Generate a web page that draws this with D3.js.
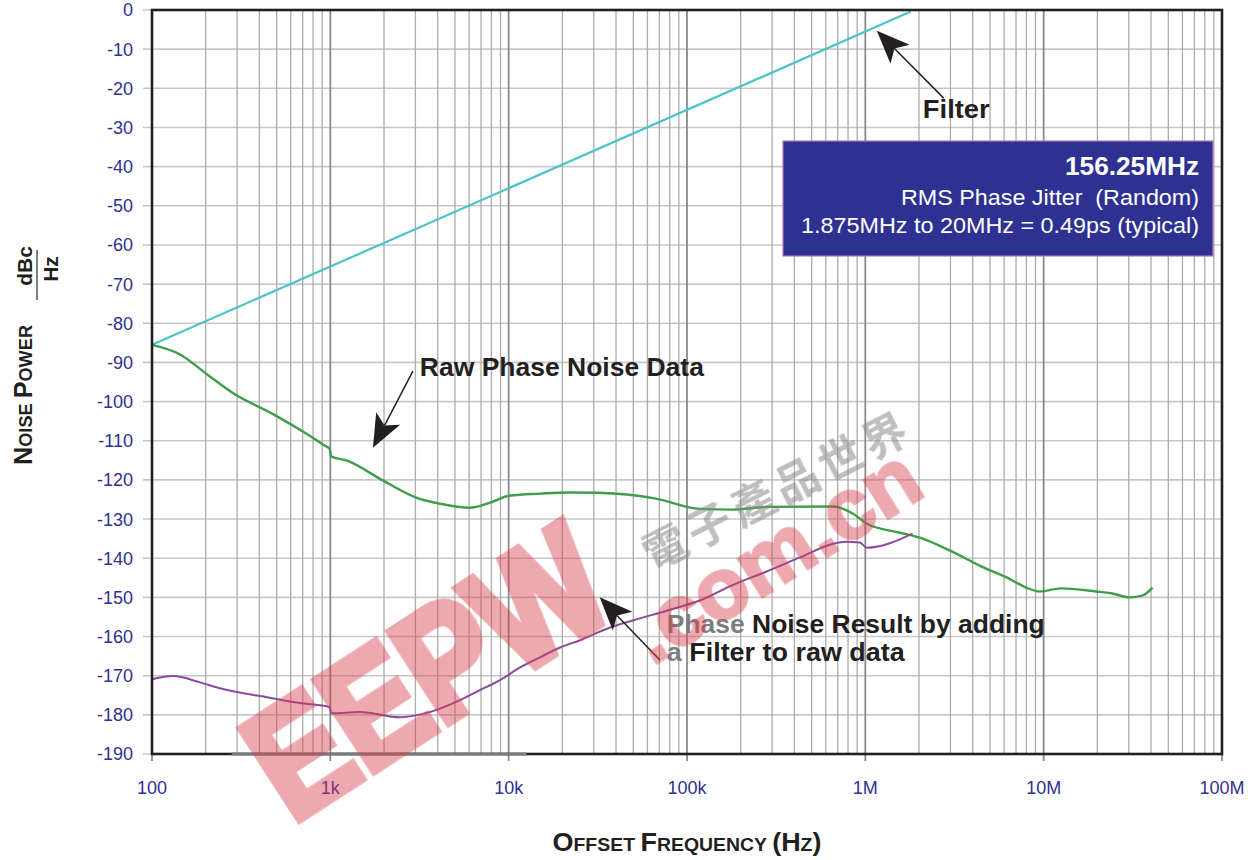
<!DOCTYPE html>
<html><head><meta charset="utf-8">
<script src="https://cdn.jsdelivr.net/npm/d3@7"></script>
<style>html,body{margin:0;padding:0;background:#fff}svg{display:block}</style>
</head><body>
<script>
// ---------- data ----------
const xTickValues = [1e2, 1e3, 1e4, 1e5, 1e6, 1e7, 1e8];
const xTickLabels = ["100", "1k", "10k", "100k", "1M", "10M", "100M"];
const yTickValues = [0, -10, -20, -30, -40, -50, -60, -70, -80, -90, -100, -110, -120, -130, -140, -150, -160, -170, -180, -190];

const filterFreq = [100, 1.8e6];
const filterDb = [-85.5, -0.4];

const rawFreq = [100, 143, 203, 284, 477, 740, 934, 990, 1010, 1240, 1980, 3060, 4130, 6080, 7850, 10200, 15000, 22000, 32000, 67000, 118000, 180000, 280000, 660000, 850000, 1020000, 1570000, 2000000, 2970000, 4620000, 6200000, 7980000, 9500000, 12500000, 19700000, 24300000, 30300000, 35900000, 40800000];
const rawDb = [-85.5, -87.9, -93, -97.8, -103.2, -108.3, -111.3, -112, -114, -115.1, -120.2, -124.6, -126.1, -127.1, -125.8, -124, -123.5, -123.2, -123.3, -124.8, -127.4, -127.6, -126.9, -126.8, -128.6, -131.2, -133.5, -134.7, -138, -142.4, -144.9, -147.5, -148.5, -147.7, -148.5, -149, -150, -149.5, -147.5];

const resultFreq = [100, 131, 186, 240, 284, 442, 676, 954, 995, 1010, 1466, 2460, 3600, 5300, 6900, 8900, 11600, 15000, 19400, 25000, 37000, 49700, 77000, 118000, 181000, 280000, 430000, 660000, 770000, 930000, 1020000, 1840000];
const resultDb = [-170.9, -170.1, -171.7, -173.2, -174, -175.5, -177, -177.8, -178.2, -179.6, -179.3, -180.6, -179.3, -176.3, -173.7, -171.2, -167.9, -165.3, -162.8, -161, -157.7, -155.9, -153.4, -150.8, -146.8, -143.4, -139.8, -136.3, -135.8, -136, -137.3, -133.7];

const boxLines = ["156.25MHz", "RMS Phase Jitter  (Random)", "1.875MHz to 20MHz = 0.49ps (typical)"];

// ---------- layout ----------
const W = 1248, H = 860;
const FONT = "'Liberation Sans', Arial, Helvetica, sans-serif";
const svg = d3.select("body").append("svg").attr("width", W).attr("height", H)
  .style("font-family", FONT);

const x = d3.scaleLog().domain([1e2, 1e8]).range([152, 1222]);
const y = d3.scaleLinear().domain([0, -190]).range([10, 754]);
const [x0, x1] = x.range(), [y0, y1] = [y(0), y(-190)];

// ---------- grid ----------
const grid = svg.append("g");
const minor = [];
for (let d = 2; d < 8; d++) for (let m = 2; m <= 9; m++) minor.push(m * Math.pow(10, d));
grid.selectAll("line.h").data(yTickValues).join("line")
  .attr("x1", x0 - 9).attr("x2", x1).attr("y1", d => y(d)).attr("y2", d => y(d))
  .attr("stroke", "#c8c8c8").attr("stroke-width", 1.6);
grid.selectAll("line.vm").data(minor).join("line")
  .attr("x1", d => x(d)).attr("x2", d => x(d)).attr("y1", y0).attr("y2", y1)
  .attr("stroke", "#acacac").attr("stroke-width", 1.3);
grid.selectAll("line.vM").data(xTickValues).join("line")
  .attr("x1", d => x(d)).attr("x2", d => x(d)).attr("y1", y0).attr("y2", y1 + 7)
  .attr("stroke", "#8a8a8a").attr("stroke-width", 1.8);

// ---------- series ----------
const line = d3.line().x(d => x(d[0])).y(d => y(d[1])).curve(d3.curveMonotoneX);
const zip = (a, b) => a.map((v, i) => [v, b[i]]);
svg.append("path").datum(zip(filterFreq, filterDb)).attr("d", line)
  .attr("fill", "none").attr("stroke", "#4cc3c6").attr("stroke-width", 2.2);
svg.append("path").datum(zip(rawFreq, rawDb)).attr("d", line)
  .attr("fill", "none").attr("stroke", "#3f9e4c").attr("stroke-width", 2.4);
svg.append("path").datum(zip(resultFreq, resultDb)).attr("d", line)
  .attr("fill", "none").attr("stroke", "#8a4a9c").attr("stroke-width", 2);

// ---------- frame ----------
svg.append("rect").attr("x", x0).attr("y", y0).attr("width", x1 - x0).attr("height", y1 - y0)
  .attr("fill", "none").attr("stroke", "#231f20").attr("stroke-width", 2.6);
svg.append("line").attr("x1", x(280)).attr("x2", x(12600)).attr("y1", y1).attr("y2", y1)
  .attr("stroke", "#7a7a7a").attr("stroke-width", 2.8);

// ---------- tick labels ----------
const tickColor = "#2e3192";
svg.append("g").selectAll("text").data(yTickValues).join("text")
  .attr("x", 133).attr("y", d => y(d)).attr("dy", "0.36em")
  .attr("text-anchor", "end").attr("font-size", 18).attr("fill", tickColor)
  .text(d => d);
svg.append("g").selectAll("text").data(xTickValues).join("text")
  .attr("x", d => x(d)).attr("y", 794)
  .attr("text-anchor", "middle").attr("font-size", 18).attr("fill", tickColor)
  .text((d, i) => xTickLabels[i]);

// ---------- axis titles (small caps) ----------
function smallCaps(sel, str, big, small) {
  for (const ch of str) {
    const isUp = ch === ch.toUpperCase() && ch !== ch.toLowerCase();
    const isPunct = ch === "(" || ch === ")";
    sel.append("tspan").attr("font-size", (isUp || isPunct) ? big : small)
      .text(isUp || isPunct || ch === " " ? ch : ch.toUpperCase());
  }
}
const xt = svg.append("text").attr("x", 687).attr("y", 851).attr("text-anchor", "middle")
  .attr("font-weight", "bold").attr("fill", "#231f20")
  .attr("textLength", 269).attr("lengthAdjust", "spacingAndGlyphs");
smallCaps(xt, "Offset  Frequency  (Hz)", 25, 18);

const yt = svg.append("text").attr("transform", "translate(32,395) rotate(-90)")
  .attr("text-anchor", "middle").attr("font-weight", "bold").attr("fill", "#231f20")
  .attr("textLength", 140).attr("lengthAdjust", "spacingAndGlyphs");
smallCaps(yt, "Noise  Power", 25, 18);
svg.append("text").attr("transform", "translate(32,266) rotate(-90)")
  .attr("text-anchor", "middle").attr("font-weight", "bold").attr("font-size", 21)
  .attr("fill", "#231f20").text("dBc");
svg.append("text").attr("transform", "translate(58,269) rotate(-90)")
  .attr("text-anchor", "middle").attr("font-weight", "bold").attr("font-size", 21)
  .attr("fill", "#231f20").text("Hz");
svg.append("line").attr("x1", 37).attr("x2", 37).attr("y1", 250).attr("y2", 300)
  .attr("stroke", "#555").attr("stroke-width", 1.5);

// ---------- annotations ----------
function arrow(tailF, tailDb, tipF, tipDb, color) {
  const tx = x(tailF), ty = y(tailDb), px = x(tipF), py = y(tipDb);
  const dx = px - tx, dy = py - ty, L = Math.hypot(dx, dy);
  const ux = dx / L, uy = dy / L, nx = -uy, ny = ux;
  const hl = 33, hw = 13.5, notch = 25;
  const bx = px - ux * hl, by = py - uy * hl;
  svg.append("line").attr("x1", tx).attr("y1", ty)
    .attr("x2", px - ux * notch).attr("y2", py - uy * notch)
    .attr("stroke", color).attr("stroke-width", 1.5);
  svg.append("path").attr("d",
    `M${px},${py}L${bx + nx * hw},${by + ny * hw}L${px - ux * notch},${py - uy * notch}L${bx - nx * hw},${by - ny * hw}Z`)
    .attr("fill", color);
}
arrow(2.75e6, -22.5, 1.16e6, -5.3, "#231f20");
arrow(2904, -92.2, 1733, -111.8, "#231f20");
arrow(70400, -166, 32400, -150, "#231f20");

function label(f, db, len, parts) {
  const t = svg.append("text").attr("x", x(f)).attr("y", y(db))
    .attr("font-size", 25).attr("font-weight", "bold")
    .attr("textLength", len).attr("lengthAdjust", "spacingAndGlyphs");
  parts.forEach(p => t.append("tspan").attr("fill", p[1]).text(p[0]));
}
label(2.1e6, -27.5, 67, [["Filter", "#231f20"]]);
label(3177, -93.5, 284, [["Raw Phase Noise Data", "#231f20"]]);
label(77000, -159.2, 378, [["Phase ", "#7d7d7d"], ["Noise Result by adding", "#231f20"]]);
label(77000, -166.3, 238, [["a ", "#7d7d7d"], ["Filter to raw data", "#231f20"]]);

// ---------- info box ----------
const box = svg.append("g");
box.append("rect").attr("x", 783).attr("y", 141).attr("width", 430).attr("height", 115)
  .attr("fill", "#2e3192").attr("stroke", "#b07ab8").attr("stroke-width", 1.2);
box.append("text").attr("x", 1199).attr("y", 175).attr("text-anchor", "end")
  .attr("font-size", 25).attr("font-weight", "bold").attr("fill", "#fff")
  .attr("textLength", 134).attr("lengthAdjust", "spacingAndGlyphs").text(boxLines[0]);
box.append("text").attr("x", 1199).attr("y", 205).attr("text-anchor", "end")
  .attr("font-size", 21.5).attr("fill", "#fff")
  .style("white-space", "pre")
  .attr("textLength", 298).attr("lengthAdjust", "spacingAndGlyphs").text(boxLines[1]);
box.append("text").attr("x", 1199).attr("y", 233).attr("text-anchor", "end")
  .attr("font-size", 21.5).attr("fill", "#fff")
  .attr("textLength", 398).attr("lengthAdjust", "spacingAndGlyphs").text(boxLines[2]);

// ---------- watermark ----------
const wm = svg.append("g").attr("pointer-events", "none");
const wmRed = wm.append("g").attr("opacity", 0.45);
wmRed.append("text").attr("transform", "translate(292,824) rotate(-33)")
  .attr("font-size", 156).attr("font-weight", "bold").attr("fill", "#d9404e")
  .attr("stroke", "#d9404e").attr("stroke-width", 9).attr("stroke-linejoin", "miter")
  .attr("textLength", 392).attr("lengthAdjust", "spacingAndGlyphs")
  .text("EEPW");
wmRed.append("text").attr("transform", "translate(652,666) rotate(-32)")
  .attr("font-size", 86).attr("font-weight", "bold").attr("fill", "#d9404e")
  .attr("stroke", "#d9404e").attr("stroke-width", 3)
  .text(".com.cn");
wm.append("text").attr("transform", "translate(775,492) rotate(-27)")
  .attr("text-anchor", "middle").attr("dy", "0.36em")
  .attr("font-family", "'Noto Sans CJK TC', 'Noto Sans CJK SC', sans-serif")
  .attr("font-size", 44).attr("font-weight", "bold").attr("fill", "#8a8a8a")
  .attr("fill-opacity", 0.55).attr("textLength", 290).attr("lengthAdjust", "spacing")
  .text("電子產品世界");
</script>
</body></html>
